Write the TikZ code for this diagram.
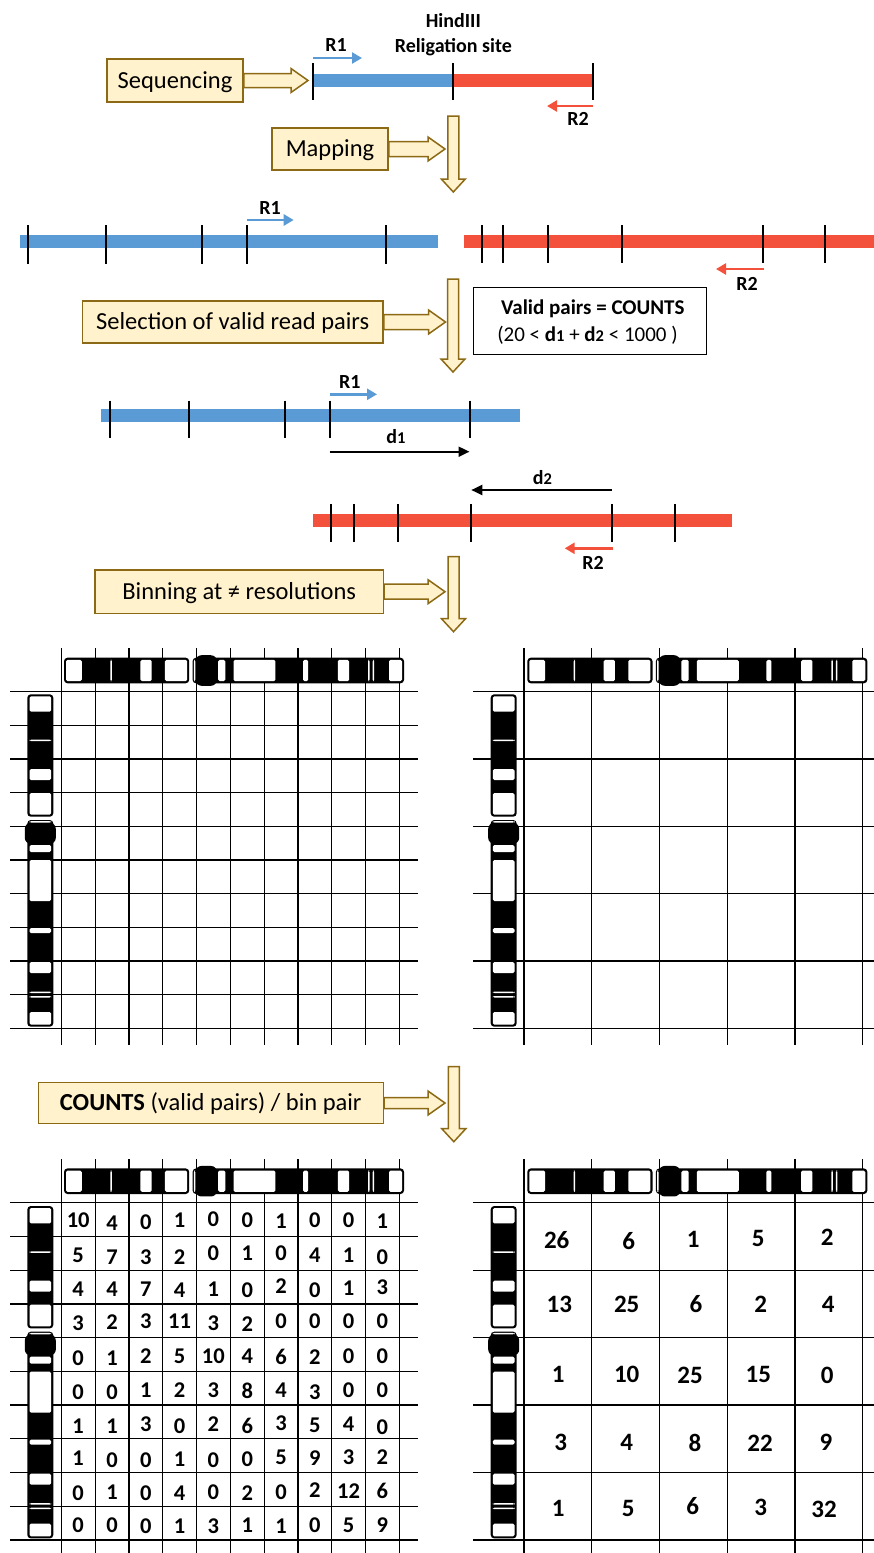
\documentclass[tikz,border=0pt]{standalone}
\usepackage{fontspec}
\setmainfont{Carlito}
\usetikzlibrary{arrows.meta,calc}

\definecolor{boxfill}{RGB}{255,242,204}
\definecolor{boxline}{RGB}{140,105,20}
\definecolor{readblue}{RGB}{91,155,213}
\definecolor{readred}{RGB}{244,81,61}

% Chromosome ideogram in local units: u = 0..332.4 along the arm, v = -13..13 across
\newcommand\chromo{%
  \fill[black, rounded corners=3.5pt] (0,-13) rectangle (122.4,13);
  \fill[black, rounded corners=3.5pt] (125.7,-13) rectangle (332.4,13);
  \fill[black, rounded corners=6pt] (128.5,-15.5) rectangle (149.5,15.5);
  \foreach \a/\b in {2/17.4, 45.3/46.8, 74.7/85.7, 98.7/120.4, 126.9/128.3,
                     150.7/157.7, 165.7/206.7, 233.7/238.7, 267.7/278.7,
                     297.2/298.7, 301.7/303.2, 317.7/330.4}
    \fill[white, rounded corners=1.5pt] (\a,-10.8) rectangle (\b,10.8);
}
\newcommand\vchromo[2]{\begin{scope}[shift={(#1,#2)}, x={(0pt,-1pt)}, y={(1pt,0pt)}]\chromo\end{scope}}
\newcommand\hchromo[2]{\begin{scope}[shift={(#1,#2)}, x={(1.023pt,0pt)}, y={(0pt,-0.985pt)}]\chromo\end{scope}}

% Block arrow pointing right from a box anchor to a tip coordinate (#3 = half shaft)
\newcommand\blockright[3]{%
  \draw[blockarrow] ($(#1)+(0,-#3)$) -- ($(#2)+(-17,-#3)$) -- ($(#2)+(-17,-12)$) -- (#2)
    -- ($(#2)+(-17,12)$) -- ($(#2)+(-17,#3)$) -- ($(#1)+(0,#3)$) -- cycle;}
% Block arrow pointing down from #1 to tip #2
\newcommand\blockdown[2]{%
  \draw[blockarrow] ($(#1)+(-5.5,0)$) -- ($(#2)+(-5.5,-13)$) -- ($(#2)+(-12,-13)$) -- (#2)
    -- ($(#2)+(12,-13)$) -- ($(#2)+(5.5,-13)$) -- ($(#1)+(5.5,0)$) -- cycle;}

\begin{document}
\begin{tikzpicture}[x=1pt, y=-1pt,
  stepbox/.style={draw=boxline, fill=boxfill, line width=1.5pt, inner sep=0pt,
    font=\fontsize{24.5}{29}\selectfont, text height=15.8pt, text depth=0pt},
  blockarrow/.style={draw=boxline, fill=boxfill, line width=1.5pt},
  lbl/.style={font=\bfseries\fontsize{20}{24}\selectfont, anchor=base, inner sep=0pt},
  site/.style={line width=2pt, draw=black},
  bluebar/.style={line width=13pt, draw=readblue},
  redbar/.style={line width=13pt, draw=readred},
  readarrow/.style={line width=2.5pt, -{Triangle[length=10pt,width=11pt]}},
  distarrow/.style={line width=2pt, -{Triangle[length=11pt,width=10pt]}},
  gridline/.style={line width=1.2pt},
  cellnum/.style={font=\bfseries\fontsize{22.5}{24}\selectfont, inner sep=0pt},
  bignum/.style={font=\bfseries\fontsize{25}{28}\selectfont, inner sep=0pt},
  sub/.style={}]
\useasboundingbox (0,0) rectangle (874,1553);

% ---------------- sequencing ----------------
\node[lbl] (hind1) at (453.3,27.3) {HindIII};
\node[lbl] (hind2) at (453.3,52.7) {Religation site};
\draw[bluebar] (313.3,80.5) -- (453.3,80.5);
\draw[redbar] (453.3,80.5) -- (593.3,80.5);
\foreach \x in {313.3,453.3,593.3} \draw[site] (\x,63.3) -- (\x,100);
\coordinate (ta1) at (313.3,58); \coordinate (ta2) at (362,58);
\draw[readarrow, readblue] (ta1) -- (ta2);
\node[lbl] (tr1) at (336,51.7) {R1};
\coordinate (tb1) at (593.3,106); \coordinate (tb2) at (547,106);
\draw[readarrow, readred] (tb1) -- (tb2);
\node[lbl] (tr2) at (578,125) {R2};

\node[stepbox, minimum width=136pt, minimum height=43pt] (seq) at (175,80.5) {Sequencing};
\coordinate (seqtip) at (308,80.5);
\blockright{seq.east}{seqtip}{7}

% ---------------- mapping ----------------
\coordinate (v1top) at (453.3,116); \coordinate (v1tip) at (453.3,192);
\blockdown{v1top}{v1tip}
\node[stepbox, minimum width=116pt, minimum height=42pt] (map) at (330,149) {Mapping};
\coordinate (maptip) at (445,149);
\blockright{map.east}{maptip}{7.5}

\draw[bluebar] (19.5,241.5) -- (437.6,241.5);
\foreach \x in {27.9,105.9,202.3,246.7,386.3} \draw[site] (\x,225) -- (\x,264);
\draw[redbar] (463.8,241.5) -- (880,241.5);
\foreach \x in {481.6,503.3,548,621.5,762.5,825} \draw[site] (\x,225) -- (\x,262.7);
\coordinate (ma1) at (246.7,220); \coordinate (ma2) at (293.7,220);
\draw[readarrow, readblue] (ma1) -- (ma2);
\node[lbl] (mr1) at (270,214) {R1};
\coordinate (mb1) at (763.5,269); \coordinate (mb2) at (716,269);
\draw[readarrow, readred] (mb1) -- (mb2);
\node[lbl] (mr2) at (747,290) {R2};

% ---------------- selection ----------------
\coordinate (v2top) at (453,279); \coordinate (v2tip) at (453,372);
\blockdown{v2top}{v2tip}
\node[stepbox, minimum width=300.6pt, minimum height=42pt] (sel) at (232.7,322) {Selection of valid read pairs};
\coordinate (seltip) at (445.5,322);
\blockright{sel.east}{seltip}{7.5}
\node[draw=black, line width=1pt, fill=white, minimum width=232.7pt, minimum height=66.6pt, inner sep=0pt]
  (valid) at (590.3,321) {};
\node[lbl, font=\bfseries\fontsize{21}{24}\selectfont] (valid1) at (592.8,314.3) {Valid pairs = COUNTS};
\node[lbl, font=\fontsize{21}{24}\selectfont] (valid2) at (587.5,341.7)
  {(20 < \textbf{d{\fontsize{16.5}{18}\selectfont1}} + \textbf{d{\fontsize{16.5}{18}\selectfont2}} < 1000 )};

\draw[bluebar] (100.5,415.8) -- (520,415.8);
\foreach \x in {110.2,188.5,285.3,329.5,470} \draw[site] (\x,400.7) -- (\x,438.3);
\draw[redbar] (313,520.8) -- (731.8,520.8);
\foreach \x in {331.2,353.5,398,471.3,611.9,674.6} \draw[site] (\x,504.3) -- (\x,542.3);
\coordinate (sa1) at (329.5,394.3); \coordinate (sa2) at (377,394.3);
\draw[readarrow, readblue] (sa1) -- (sa2);
\node[lbl] (sr1) at (349.7,388.3) {R1};
\coordinate (da1) at (329.5,451.7); \coordinate (da2) at (469.5,451.7);
\draw[distarrow] (da1) -- (da2);
\node[lbl] (dl1) at (396,443.3) {d{\fontsize{16.5}{18}\selectfont1}};
\coordinate (db1) at (611.9,490); \coordinate (db2) at (471.3,490);
\draw[distarrow] (db1) -- (db2);
\node[lbl] (dl2) at (542.4,484) {d{\fontsize{16.5}{18}\selectfont2}};
\coordinate (sb1) at (612.5,548.3); \coordinate (sb2) at (564.7,548.3);
\draw[readarrow, readred] (sb1) -- (sb2);
\node[lbl] (sr2) at (593,569.3) {R2};

% ---------------- binning ----------------
\coordinate (v3top) at (453.5,556.7); \coordinate (v3tip) at (453.5,631.7);
\blockdown{v3top}{v3tip}
\node[stepbox, minimum width=288.3pt, minimum height=43.3pt] (bin) at (239.2,591.7) {Binning at ≠ resolutions};
\coordinate (bintip) at (445,591.7);
\blockright{bin.east}{bintip}{7.5}

% empty contact maps: fine bins (left) and coarse bins (right)
\foreach \i in {0,...,10} {
  \draw[gridline] (10,{691.7+\i*33.67}) -- (418,{691.7+\i*33.67});
  \draw[gridline] ({61.3+\i*33.8},648) -- ({61.3+\i*33.8},1045);
}
\foreach \i in {0,...,5} {
  \draw[gridline] (473.3,{691.7+\i*67.34}) -- (880,{691.7+\i*67.34});
  \draw[gridline] ({524+\i*67.74},648) -- ({524+\i*67.74},1045);
}
\hchromo{64}{670.5}
\vchromo{40.3}{694.3}
\hchromo{527.3}{670.5}
\vchromo{503.7}{694.3}

% ---------------- counts ----------------
\coordinate (v4top) at (453.8,1066.7); \coordinate (v4tip) at (453.8,1141.7);
\blockdown{v4top}{v4tip}
\node[stepbox, minimum width=345pt, minimum height=40.6pt] (cnt) at (210.8,1103)
  {\textbf{COUNTS} (valid pairs) / bin pair};
\coordinate (cnttip) at (445,1103);
\blockright{cnt.east}{cnttip}{5.5}

% filled contact maps
\foreach \i in {0,...,10} {
  \draw[gridline] (10,{1202.7+\i*33.73}) -- (418,{1202.7+\i*33.73});
  \draw[gridline] ({61.3+\i*33.8},1159) -- ({61.3+\i*33.8},1560);
}
\foreach \i in {0,...,5} {
  \draw[gridline] (473.3,{1202.7+\i*67.46}) -- (880,{1202.7+\i*67.46});
  \draw[gridline] ({524+\i*67.74},1159) -- ({524+\i*67.74},1560);
}
\hchromo{64}{1181.2}
\vchromo{40.3}{1206}
\hchromo{527.3}{1181.2}
\vchromo{503.7}{1206}

\foreach \row [count=\r] in {
  {10/1, 4/3.7, 0/3, 1/1, 0/-0.3, 0/0.3, 1/1.7, 0/1, 0/1, 1/1.7},
  {5/2.3, 7/3.7, 3/3.7, 2/3.7, 0/-0.3, 1/0.3, 0/0.3, 4/2.3, 1/2.3, 0/3.7},
  {4/2, 4/2, 7/2, 4/2.7, 1/2, 0/2.7, 2/-0.7, 0/2.7, 1/1, 3/0},
  {3/2.3, 2/1.7, 3/0.7, 11/0.7, 3/2.3, 2/3, 0/0.7, 0/0.7, 0/0.7, 0/0.7},
  {0/3.7, 1/3.7, 2/2, 5/1.3, 10/2, 4/1.3, 6/2.7, 2/2.7, 0/1.3, 0/1.3},
  {0/4.3, 0/4.3, 1/2.3, 2/2.3, 3/2.3, 8/2.3, 4/2.3, 3/4.3, 0/2.3, 0/1.7},
  {1/4, 1/4, 3/2, 0/4.7, 2/2, 6/4, 3/1.3, 5/3.3, 4/2, 0/5.3},
  {1/2.7, 0/4.3, 0/4.3, 1/3.7, 0/4.3, 0/3.7, 5/1.7, 9/2.7, 3/1.7, 2/1.7},
  {0/3.7, 1/3, 0/3.7, 4/3.7, 0/3, 2/3.7, 0/3, 2/1, 12/2, 6/1},
  {0/1.7, 0/1.7, 0/3.3, 1/2.7, 3/3.3, 1/1.7, 1/2.7, 0/1.7, 5/1.7, 9/1.7}}
  \foreach \v/\dy [count=\c] in \row
    \node[cellnum] (L-\r-\c) at ({61.3+(\c-0.5)*33.8},{1202.7+(\r-0.5)*33.73+\dy}) {\v};

\foreach \v/\x/\y [count=\k] in {
  26/556.7/1240, 6/628.7/1240.7, 1/693.3/1239.3, 5/758.3/1238.3, 2/827.3/1237.3,
  13/559.3/1304, 25/626.7/1304, 6/696/1304, 2/760.7/1304, 4/828.3/1304,
  1/558.3/1374, 10/626.7/1374, 25/690/1375, 15/758.3/1374, 0/827.3/1375,
  3/560.7/1442.7, 4/626.7/1442.7, 8/695/1442.7, 22/760/1443.3, 9/826/1442.7,
  1/558.3/1508.3, 5/628.3/1508.3, 6/692.7/1506, 3/760.7/1507.3, 32/824/1509.3}
  \node[bignum] (R-\k) at (\x,\y) {\v};
\end{tikzpicture}
\end{document}
